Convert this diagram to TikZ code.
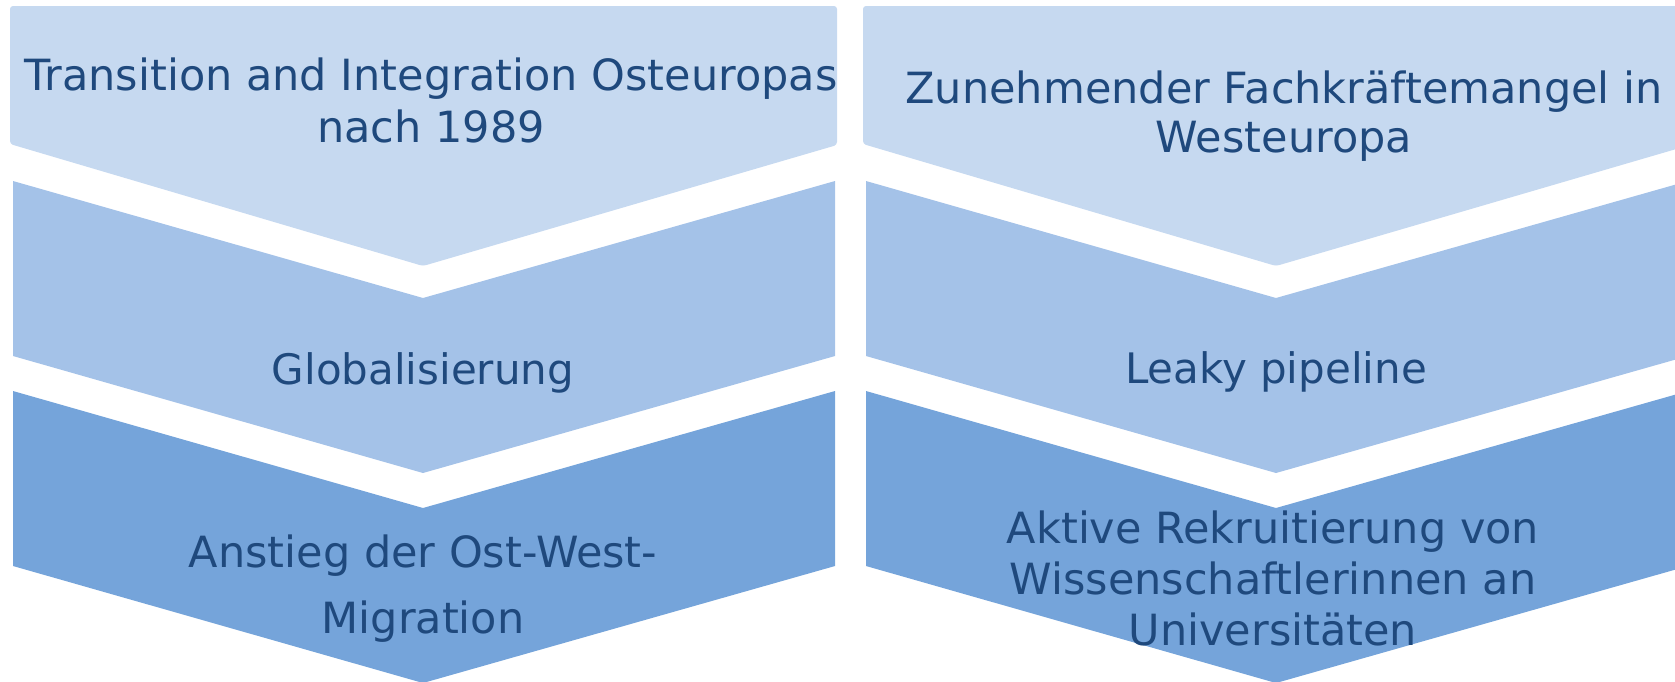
\documentclass[tikz,border=0pt]{standalone}
\usepackage{fontspec}
\setmainfont{DejaVu Sans}
\definecolor{bandA}{HTML}{C6D9F0}
\definecolor{bandB}{HTML}{A4C2E8}
\definecolor{bandC}{HTML}{75A4DA}
\definecolor{txtblue}{HTML}{1F497D}
\tikzset{
  lbl/.style={text=txtblue, align=center, anchor=base, inner sep=0pt},
  sz/.style={font=\fontsize{43}{#1}\selectfont},
  szs/.style={font=\fontsize{42}{#1}\selectfont}
}
\begin{document}
\begin{tikzpicture}[x=1pt,y=-1pt]
\useasboundingbox (0,0) rectangle (1675,681);
\clip (0,0) rectangle (1675,681);
% two columns of stacked chevrons
\foreach \dx in {0,853}{
  \begin{scope}[xshift=\dx]
    \fill[bandA, rounded corners=3pt] (10,6) -- (837,6) -- (837,145) -- (423,266) -- (10,144) -- cycle;
    \fill[bandB] (13,181) -- (423,298) -- (835,181) -- (835,356) -- (423,473) -- (13,356) -- cycle;
    \fill[bandC] (13,391) -- (423,508) -- (835,391) -- (835,566) -- (423,683) -- (13,566) -- cycle;
  \end{scope}
}
% labels (anchored at the baseline of their last line)
\node[lbl, sz=52] (l1) at (431,142) {Transition and Integration Osteuropas\\nach 1989};
\node[lbl, sz=49] (r1) at (1284,152) {Zunehmender Fachkräftemangel in\\Westeuropa};
\node[lbl, szs=50] (l2) at (423,384) {Globalisierung};
\node[lbl, szs=50] (r2) at (1276,383) {Leaky pipeline};
\node[lbl, sz=66] (l3) at (423,633) {Anstieg der Ost-West-\\Migration};
\node[lbl, sz=51] (r3) at (1273,645) {Aktive Rekruitierung von\\Wissenschaftlerinnen an\\Universitäten};
\end{tikzpicture}
\end{document}
